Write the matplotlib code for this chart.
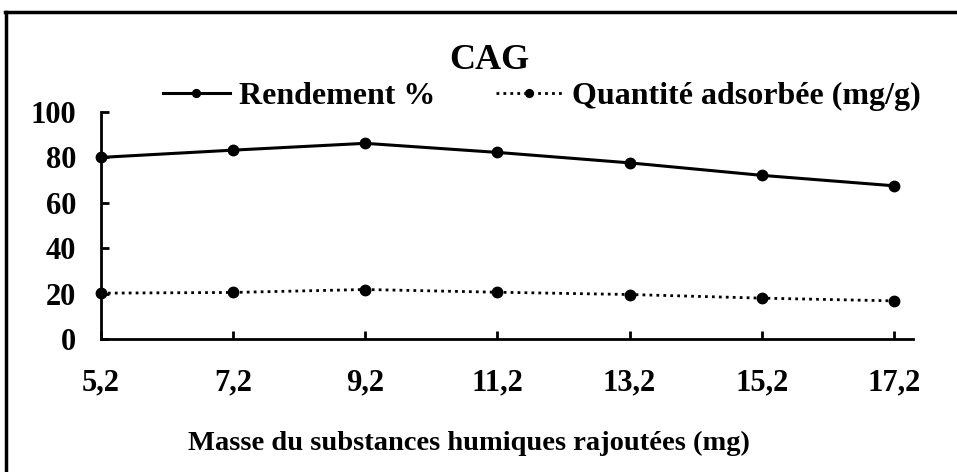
import matplotlib
matplotlib.use("Agg")
import matplotlib.pyplot as plt
from matplotlib.lines import Line2D

# masse ajoutee (mg)
masse = [5.2, 7.2, 9.2, 11.2, 13.2, 15.2, 17.2]
masse_labels = ["5,2", "7,2", "9,2", "11,2", "13,2", "15,2", "17,2"]
# rendement % et quantite adsorbee (mg/g)
rendement = [80.0, 83.2, 86.2, 82.2, 77.6, 72.1, 67.5]
quantite = [20.2, 20.5, 21.8, 20.6, 19.6, 18.0, 16.8]
yticks = [0, 20, 40, 60, 80, 100]

plt.rcParams['font.family'] = ['Liberation Serif', 'DejaVu Serif']
plt.rcParams['font.weight'] = 'bold'

fig = plt.figure(figsize=(9.57, 4.72), dpi=100)
ax = fig.add_axes([0.1055, 0.2818, 0.8485, 0.4809])

ax.plot(masse, rendement, color='black', lw=2.2, marker='o', ms=7.5,
        label='Rendement %', clip_on=False)
ax.plot(masse, quantite, color='black', lw=2.0, ls=(0, (1, 1.5)), marker='o', ms=7.5,
        label='Quantité adsorbée (mg/g)', clip_on=False)

ax.set_xlim(5.2, 17.49)
ax.set_ylim(0, 100)
ax.set_xticks(masse)
ax.set_xticklabels(masse_labels)
ax.set_yticks(yticks)

for s in ['top', 'right']:
    ax.spines[s].set_visible(False)
for s in ['left', 'bottom']:
    ax.spines[s].set_linewidth(2.0)

ax.tick_params(axis='both', direction='in', length=6, width=2, labelsize=22)
ax.tick_params(axis='x', pad=21)
ax.tick_params(axis='y', pad=18)
for lab in ax.get_xticklabels() + ax.get_yticklabels():
    lab.set_fontweight('bold')

fig.text(0.511, 0.872, 'CAG', ha='center', va='center', fontsize=26, fontweight='bold')
fig.text(0.49, 0.0466, 'Masse du substances humiques rajoutées (mg)', ha='center', va='baseline',
         fontsize=20.5, fontweight='bold')

leg = fig.legend(loc='center', bbox_to_anchor=(0.566, 0.795), ncol=2, frameon=False,
                 prop={'size': 23, 'weight': 'bold'}, handlelength=2.1, handletextpad=0.28,
                 columnspacing=1.9, markerscale=0.75, borderpad=0.1)

# cadre du graphique
fig.add_artist(Line2D([0.005, 1.0], [0.9746, 0.9746], color='black', lw=2.5, transform=fig.transFigure))
fig.add_artist(Line2D([0.006, 0.006], [0.0, 0.9746], color='black', lw=2.5, transform=fig.transFigure))

fig.savefig('out.png', dpi=100)
